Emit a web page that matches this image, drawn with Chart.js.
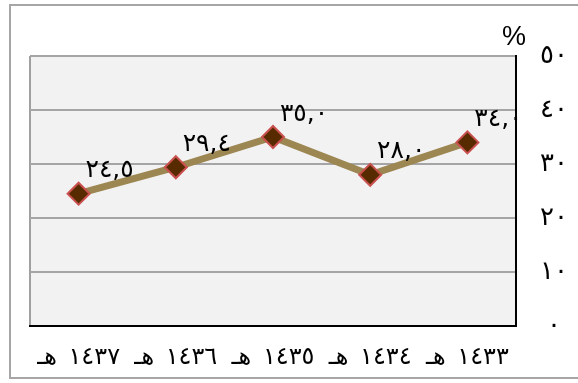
<!DOCTYPE html>
<html lang="ar">
<head>
<meta charset="utf-8">
<title>النسبة المئوية ١٤٣٣–١٤٣٧ هـ</title>
<script src="https://cdn.jsdelivr.net/npm/chart.js@4"></script>
<style>
  html, body { margin: 0; padding: 0; background: #ffffff; }
  #chart { display: block; }
</style>
</head>
<body>
<canvas id="chart" width="578" height="383"></canvas>
<script>
// Hijri years, newest on the left
const categories = ['١٤٣٧ هـ', '١٤٣٦ هـ', '١٤٣٥ هـ', '١٤٣٤ هـ', '١٤٣٣ هـ'];
// Percentage for each year
const values = [24.5, 29.4, 35.0, 28.0, 34.0];
// Value-axis ticks and their Arabic-Indic labels
const yTickValues = [0, 10, 20, 30, 40, 50];
const yTickLabels = ['٠', '١٠', '٢٠', '٣٠', '٤٠', '٥٠'];
const unitLabel = '%';

const ARABIC_DIGITS = '٠١٢٣٤٥٦٧٨٩';
function toArabicNumber(v) {
  return v.toFixed(1)
    .replace(/\d/g, d => ARABIC_DIGITS[+d])
    .replace('.', ',');
}

const FONT = '"DejaVu Sans", sans-serif';

// Wider spacing between the Arabic-Indic digits
const spacingPlugin = {
  id: 'spacing',
  beforeLayout(chart) { chart.ctx.letterSpacing = '4px'; },
  beforeDraw(chart) { chart.ctx.letterSpacing = '4px'; }
};

// Page frame, grey plot background and the plot's grey left edge
const framePlugin = {
  id: 'frame',
  beforeDraw(chart) {
    const { ctx, chartArea: a } = chart;
    ctx.save();
    ctx.fillStyle = '#ffffff';
    ctx.fillRect(0, 0, chart.width, chart.height);
    ctx.strokeStyle = '#a6a6a6';
    ctx.lineWidth = 2;
    ctx.strokeRect(10, 5, chart.width + 20, 373);
    ctx.fillStyle = '#f2f2f2';
    ctx.fillRect(a.left, a.top, a.right - a.left, a.bottom - a.top);
    ctx.strokeStyle = '#a0a0a0';
    ctx.beginPath();
    ctx.moveTo(a.left, a.top);
    ctx.lineTo(a.left, a.bottom);
    ctx.stroke();
    ctx.restore();
  }
};

// Value labels beside each point and the % unit above the axis
const labelsPlugin = {
  id: 'valueLabels',
  afterDatasetsDraw(chart) {
    const { ctx, chartArea: a } = chart;
    const meta = chart.getDatasetMeta(0);
    ctx.save();
    ctx.fillStyle = '#000000';
    ctx.font = '25px ' + FONT;
    ctx.letterSpacing = '1px';
    ctx.textAlign = 'center';
    ctx.textBaseline = 'middle';
    meta.data.forEach((pt, i) => {
      ctx.fillText(toArabicNumber(values[i]), pt.x + 31, pt.y - 23);
    });
    ctx.letterSpacing = '0px';
    ctx.font = '27px "Liberation Sans", sans-serif';
    ctx.fillText(unitLabel, a.right - 2, a.top - 18);
    ctx.restore();
  }
};

new Chart(document.getElementById('chart'), {
  type: 'line',
  data: {
    labels: categories,
    datasets: [{
      data: values,
      borderColor: '#9c8651',
      borderWidth: 7,
      pointStyle: 'rectRot',
      pointRadius: 11,
      pointHoverRadius: 11,
      pointBackgroundColor: '#582a00',
      pointBorderColor: '#c9504f',
      pointBorderWidth: 2,
      tension: 0,
      fill: false
    }]
  },
  options: {
    responsive: false,
    animation: false,
    events: [],
    layout: { padding: { left: 30, right: 0, top: 56, bottom: 0 } },
    plugins: {
      legend: { display: false },
      tooltip: { enabled: false },
      title: { display: false }
    },
    scales: {
      x: {
        offset: true,
        grid: { display: false, drawTicks: false, offset: true },
        border: { display: true, color: '#000000', width: 2 },
        ticks: {
          color: '#000000',
          font: { family: FONT, size: 24 },
          padding: 17,
          maxRotation: 0,
          autoSkip: false
        },
        afterFit(scale) { scale.height = 57; }
      },
      y: {
        position: 'right',
        min: 0,
        max: 50,
        grid: { color: '#a5a5a5', lineWidth: 2, drawTicks: false },
        border: { display: true, color: '#000000', width: 2 },
        ticks: {
          stepSize: 10,
          color: '#000000',
          font: { family: FONT, size: 26 },
          padding: 24,
          crossAlign: 'center',
          callback: (v) => {
            const i = yTickValues.indexOf(v);
            return i >= 0 ? yTickLabels[i] : '';
          }
        },
        afterFit(scale) { scale.width = 62; }
      }
    }
  },
  plugins: [spacingPlugin, framePlugin, labelsPlugin]
});
</script>
</body>
</html>
